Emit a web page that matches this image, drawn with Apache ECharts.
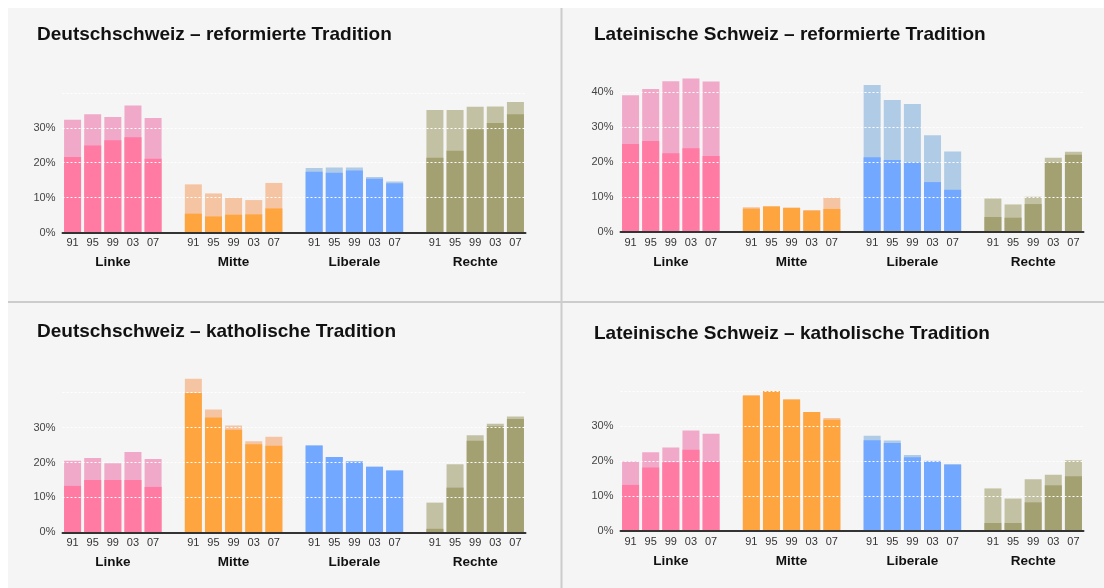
<!DOCTYPE html>
<html>
<head>
<meta charset="utf-8">
<script src="https://cdn.jsdelivr.net/npm/echarts@6/dist/echarts.min.js"></script>
<style>
  html, body { margin: 0; padding: 0; background: #fff; }
  #chart { width: 1104px; height: 588px; }
</style>
</head>
<body>
<div id="chart"></div>
<script>
// Jahre und Blöcke
const years = ['91', '95', '99', '03', '07'];
const groups = ['Linke', 'Mitte', 'Liberale', 'Rechte'];
const titles = [
  'Deutschschweiz – reformierte Tradition',
  'Lateinische Schweiz – reformierte Tradition',
  'Deutschschweiz – katholische Tradition',
  'Lateinische Schweiz – katholische Tradition'
];
const yTicks = [0, 10, 20, 30, 40];
const yLabelMax = [30, 40, 30, 30];

// Gesamtanteil je Block (heller Balken), Reihenfolge: Linke, Mitte, Liberale, Rechte
const deRefTotal = [[32.3, 33.9, 33.1, 36.4, 32.8], [13.8, 11.2, 9.9, 9.3, 14.2], [18.5, 18.6, 18.6, 15.9, 14.6], [35.1, 35.1, 36.0, 36.1, 37.4]];
const deRefBase  = [[21.6, 24.9, 26.4, 27.3, 21.1], [5.4, 4.6, 5.1, 5.2, 6.9], [17.4, 17.1, 17.8, 15.4, 14.1], [21.4, 23.4, 29.6, 31.4, 33.9]];

const latRefTotal = [[39.2, 41.0, 43.2, 44.0, 43.1], [7.1, 7.4, 7.0, 6.3, 9.8], [42.1, 37.8, 36.7, 27.7, 23.1], [9.6, 7.9, 10.1, 21.3, 23.0]];
const latRefBase  = [[25.2, 26.1, 22.6, 24.0, 21.8], [6.7, 7.3, 6.9, 6.1, 6.6], [21.4, 20.6, 19.9, 14.3, 12.1], [4.3, 4.1, 8.0, 19.9, 22.1]];

const deKathTotal = [[20.5, 21.3, 19.8, 23.0, 21.0], [44.0, 35.2, 30.6, 26.1, 27.4], [24.9, 21.6, 20.4, 18.8, 17.7], [8.5, 19.5, 27.8, 31.1, 33.2]];
const deKathBase  = [[13.3, 15.0, 15.0, 15.0, 13.0], [39.9, 32.9, 29.4, 25.2, 24.8], [24.9, 21.6, 20.2, 18.8, 17.7], [1.0, 12.8, 26.2, 30.4, 32.5]];

const latKathTotal = [[19.9, 22.6, 23.9, 28.8, 27.9], [38.8, 40.1, 37.7, 34.1, 32.4], [27.3, 25.9, 21.8, 20.1, 19.2], [12.2, 9.3, 14.8, 16.1, 20.3]];
const latKathBase  = [[13.2, 18.2, 19.7, 23.3, 19.9], [38.8, 40.1, 37.7, 34.1, 31.9], [26.0, 25.2, 21.1, 19.9, 19.0], [2.3, 2.3, 8.2, 13.1, 15.7]];

const totals = [deRefTotal, latRefTotal, deKathTotal, latKathTotal];
const bases = [deRefBase, latRefBase, deKathBase, latKathBase];

const darkColors = ['#ff7ba3', '#ffa53f', '#72a8ff', '#a3a072'];
const lightColors = ['#f0a9c9', '#f5c5a3', '#b0cbe6', '#c3c1a3'];

const FONT = "'Liberation Sans', Arial, Helvetica, sans-serif";

// Plot-Bereiche (links, oben) der vier Felder
const gridPos = [[62.5, 58], [620.5, 57.5], [62.5, 357.8], [620.5, 356.5]];
const titlePos = [[32, 20], [589, 20], [32, 317], [589, 319]];

// Kategorien: 5 Jahre pro Block, eine Lücke dazwischen
const yearCats = [];
const groupCats = [];
groups.forEach((g, gi) => {
  years.forEach((y, yi) => {
    yearCats.push(y);
    groupCats.push(yi === 2 ? g : '');
  });
  if (gi < groups.length - 1) {
    yearCats.push('');
    groupCats.push('');
  }
});

function buildData(values, colors) {
  const out = [];
  groups.forEach((g, gi) => {
    values[gi].forEach(v => {
      out.push({ value: v, itemStyle: { color: colors[gi] } });
    });
    if (gi < groups.length - 1) out.push('-');
  });
  return out;
}

const grid = [];
const xAxis = [];
const yAxis = [];
const series = [];
const title = [];

for (let i = 0; i < 4; i++) {
  grid.push({ left: gridPos[i][0], top: gridPos[i][1], width: 463, height: 174.5 });

  title.push({
    text: titles[i],
    left: titlePos[i][0],
    top: titlePos[i][1],
    textStyle: { fontFamily: FONT, fontSize: 19, fontWeight: 'bold', color: '#111' }
  });

  xAxis.push({
    type: 'category',
    gridIndex: i,
    data: yearCats,
    z: 10,
    axisLine: { lineStyle: { color: '#333', width: 2 } },
    axisTick: { show: false },
    axisLabel: { interval: 0, color: '#333', fontSize: 11, fontFamily: FONT, margin: 5 },
    splitLine: { show: false }
  });
  xAxis.push({
    type: 'category',
    gridIndex: i,
    data: groupCats,
    position: 'bottom',
    axisLine: { show: false },
    axisTick: { show: false },
    axisLabel: { interval: 0, color: '#111', fontSize: 13.5, fontWeight: 'bold', fontFamily: FONT, margin: 23 },
    splitLine: { show: false }
  });

  const labelMax = yLabelMax[i];
  yAxis.push({
    type: 'value',
    gridIndex: i,
    min: yTicks[0],
    max: 50,
    interval: 10,
    z: 10,
    axisLine: { show: false },
    axisTick: { show: false },
    axisLabel: {
      color: '#444',
      fontSize: 11,
      fontFamily: FONT,
      margin: 7,
      formatter: v => (yTicks.indexOf(v) >= 0 && v <= labelMax ? v + '%' : '')
    },
    splitLine: { showMaxLine: false, lineStyle: { color: '#ffffff', width: 1, type: [2, 2] } }
  });

  series.push({
    type: 'bar',
    xAxisIndex: i * 2,
    yAxisIndex: i,
    barWidth: 17,
    barGap: '-100%',
    data: buildData(totals[i], lightColors),
    animation: false
  });
  series.push({
    type: 'bar',
    xAxisIndex: i * 2,
    yAxisIndex: i,
    barWidth: 17,
    barGap: '-100%',
    data: buildData(bases[i], darkColors),
    animation: false
  });
}

const chart = echarts.init(document.getElementById('chart'));
chart.setOption({
  backgroundColor: '#ffffff',
  animation: false,
  graphic: [
    { type: 'rect', z: -10, shape: { x: 8, y: 8, width: 1096, height: 580 }, style: { fill: '#f5f5f5' } },
    { type: 'line', z: -9, shape: { x1: 561.5, y1: 8, x2: 561.5, y2: 588 }, style: { stroke: '#cccccc', lineWidth: 2 } },
    { type: 'line', z: -9, shape: { x1: 8, y1: 302, x2: 1104, y2: 302 }, style: { stroke: '#cccccc', lineWidth: 2 } }
  ],
  title,
  grid,
  xAxis,
  yAxis,
  series
});
</script>
</body>
</html>
